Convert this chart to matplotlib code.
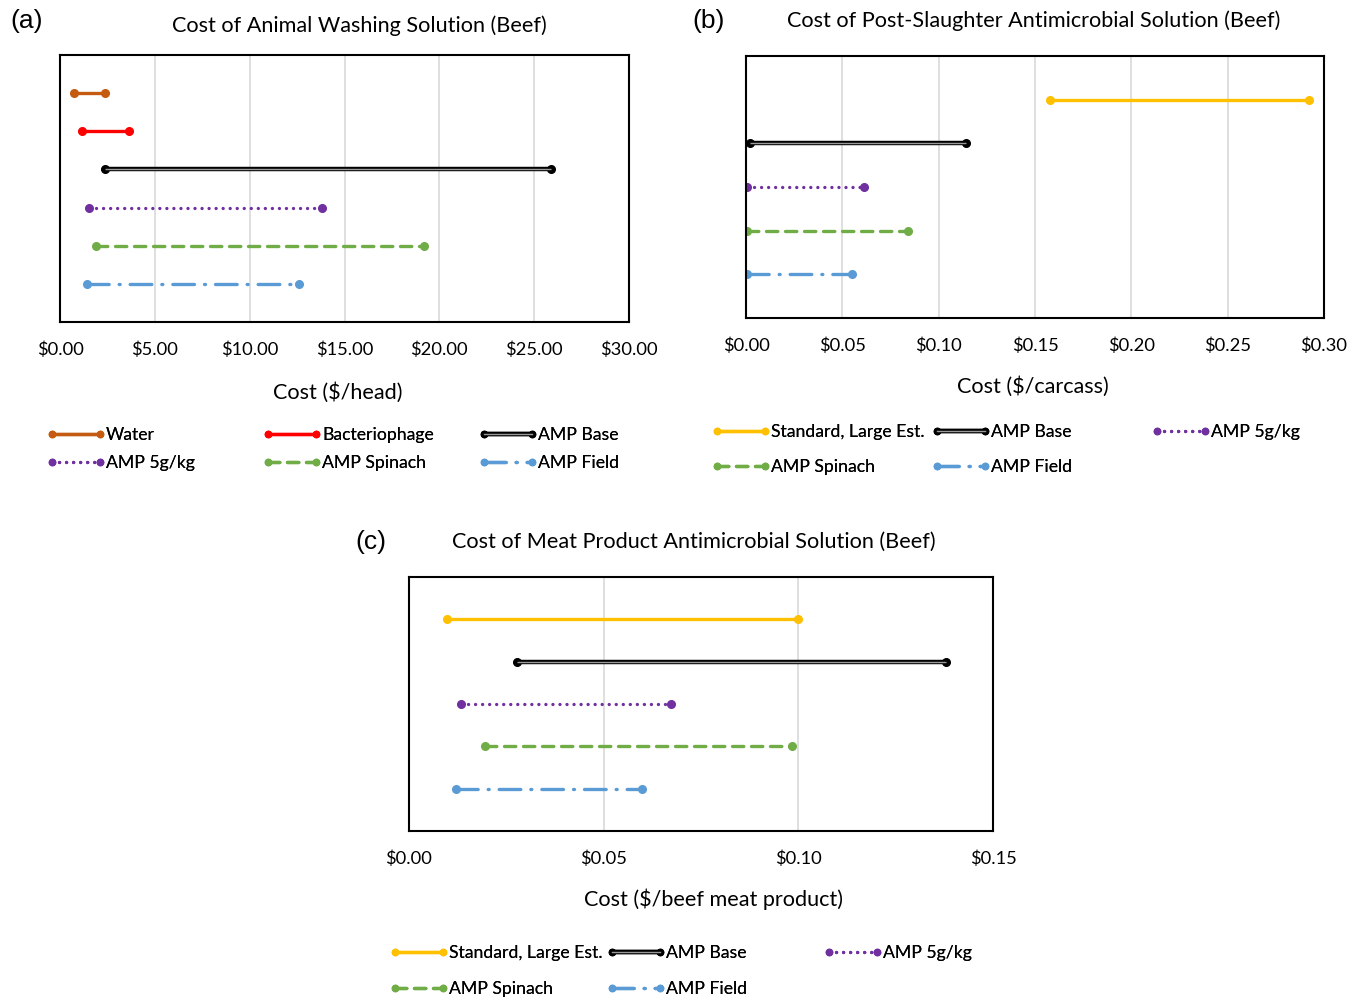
import matplotlib
matplotlib.use("Agg")
import matplotlib.pyplot as plt
from matplotlib.lines import Line2D
from matplotlib.ticker import FuncFormatter, MultipleLocator

plt.rcParams['font.family'] = ['Lato', 'DejaVu Sans']

# ---- data ----
a_names = ["Water", "Bacteriophage", "AMP Base", "AMP 5g/kg", "AMP Spinach", "AMP Field"]
a_low = [0.74, 1.16, 2.37, 1.53, 1.90, 1.42]
a_high = [2.37, 3.64, 25.88, 13.81, 19.19, 12.60]

b_names = ["Standard, Large Est.", "AMP Base", "AMP 5g/kg", "AMP Spinach", "AMP Field"]
b_low = [0.158, 0.002, 0.0005, 0.0005, 0.0005]
b_high = [0.292, 0.114, 0.061, 0.084, 0.055]

c_names = ["Standard, Large Est.", "AMP Base", "AMP 5g/kg", "AMP Spinach", "AMP Field"]
c_low = [0.0098, 0.0277, 0.0134, 0.0195, 0.0121]
c_high = [0.1000, 0.1379, 0.0673, 0.0984, 0.0599]

# ---- styles per series ----
estilos = {
    "Water": dict(color="#C55A11", ls="-", lw=2.4),
    "Bacteriophage": dict(color="#FF0000", ls="-", lw=2.4),
    "Standard, Large Est.": dict(color="#FFC000", ls="-", lw=2.4),
    "AMP Base": dict(color="black", ls="-", lw=3.2),
    "AMP 5g/kg": dict(color="#7030A0", ls=(0, (0.01, 2.1)), lw=2.4),
    "AMP Spinach": dict(color="#70AD47", ls=(0, (3.4, 2.3)), lw=2.4),
    "AMP Field": dict(color="#5B9BD5", ls=(0, (6.5, 3.0, 0.3, 3.0)), lw=2.4),
}


def desenha_linha(ax, nome, xs, ys):
    st = estilos[nome]
    if nome == "AMP Base":
        ax.plot(xs, ys, color="black", lw=st["lw"], marker="o", ms=5.5, solid_capstyle="butt")
        ax.plot(xs, ys, color="#9a9a9a", lw=1.0, solid_capstyle="butt")
    else:
        ax.plot(xs, ys, color=st["color"], ls=st["ls"], lw=st["lw"], marker="o", ms=5.5,
                dash_capstyle="round", solid_capstyle="butt")


def handle(nome):
    st = estilos[nome]
    if nome == "AMP Base":
        h1 = Line2D([], [], color="black", lw=st["lw"], marker="o", ms=4.5)
        h2 = Line2D([], [], color="#9a9a9a", lw=1.0)
        return (h1, h2)
    return Line2D([], [], color=st["color"], ls=st["ls"], lw=st["lw"], marker="o", ms=4.5,
                  dash_capstyle="round")


def painel(ax, nomes, low, high, xmax, passo):
    n = len(nomes)
    for i, nome in enumerate(nomes):
        y = n - i
        desenha_linha(ax, nome, [low[i], high[i]], [y, y])
    ax.set_xlim(0, xmax)
    ax.set_ylim(0, n + 1)
    ax.xaxis.set_major_locator(MultipleLocator(passo))
    ax.xaxis.set_major_formatter(FuncFormatter(lambda v, p: "\\$%.2f" % v))
    ax.set_yticks([])
    ax.tick_params(axis="x", length=0, pad=14, labelsize=13.2)
    ax.grid(axis="x", color="#d9d9d9", lw=1.2)
    ax.set_axisbelow(True)
    for s in ax.spines.values():
        s.set_linewidth(1.5)
        s.set_color("black")


W, H = 1364, 999
fig = plt.figure(figsize=(13.64, 9.99), dpi=100)


def px_axes(x0, x1, y0, y1):
    return fig.add_axes([x0 / W, 1 - y1 / H, (x1 - x0) / W, (y1 - y0) / H])


ax_a = px_axes(60, 629, 55, 322)
ax_b = px_axes(746, 1324, 56, 318)
ax_c = px_axes(409, 993, 577, 831)

painel(ax_a, a_names, a_low, a_high, 30, 5)
painel(ax_b, b_names, b_low, b_high, 0.30, 0.05)
painel(ax_c, c_names, c_low, c_high, 0.15, 0.05)


def texto(x, y, s, **kw):
    fig.text(x / W, 1 - y / H, s, ha="center", va="center", **kw)


# titulos e rotulos
texto(359, 26, "Cost of Animal Washing Solution (Beef)", fontsize=15.6)
texto(1034, 21, "Cost of Post-Slaughter Antimicrobial Solution (Beef)", fontsize=15.6)
texto(694, 542, "Cost of Meat Product Antimicrobial Solution (Beef)", fontsize=15.6)
texto(27, 21, "(a)", fontsize=19, family="Liberation Sans")
texto(709, 21, "(b)", fontsize=19, family="Liberation Sans")
texto(371, 542, "(c)", fontsize=19, family="Liberation Sans")
texto(338, 393, "Cost (\\$/head)", fontsize=15.6)
texto(1033, 387, "Cost (\\$/carcass)", fontsize=15.6)
texto(713, 899, "Cost (\\$/beef meat product)", fontsize=15.6)


# legendas: uma por item, posicionadas em pixels
def legenda(nomes, cols, rows):
    for i, nome in enumerate(nomes):
        x = cols[i % 3] - 5
        y = rows[i // 3]
        leg = fig.legend([handle(nome)], [nome], loc="center left",
                         bbox_to_anchor=(x / W, 1 - y / H), frameon=False,
                         borderpad=0, borderaxespad=0, handlelength=3.3,
                         handletextpad=0.05, numpoints=2, fontsize=12.7)
        fig.add_artist(leg)


legenda(a_names, [52, 268, 484], [435, 463])
legenda(b_names, [717, 937, 1157], [432, 467])
legenda(c_names, [395, 612, 829], [953, 989])

fig.savefig("out.png", dpi=100)
